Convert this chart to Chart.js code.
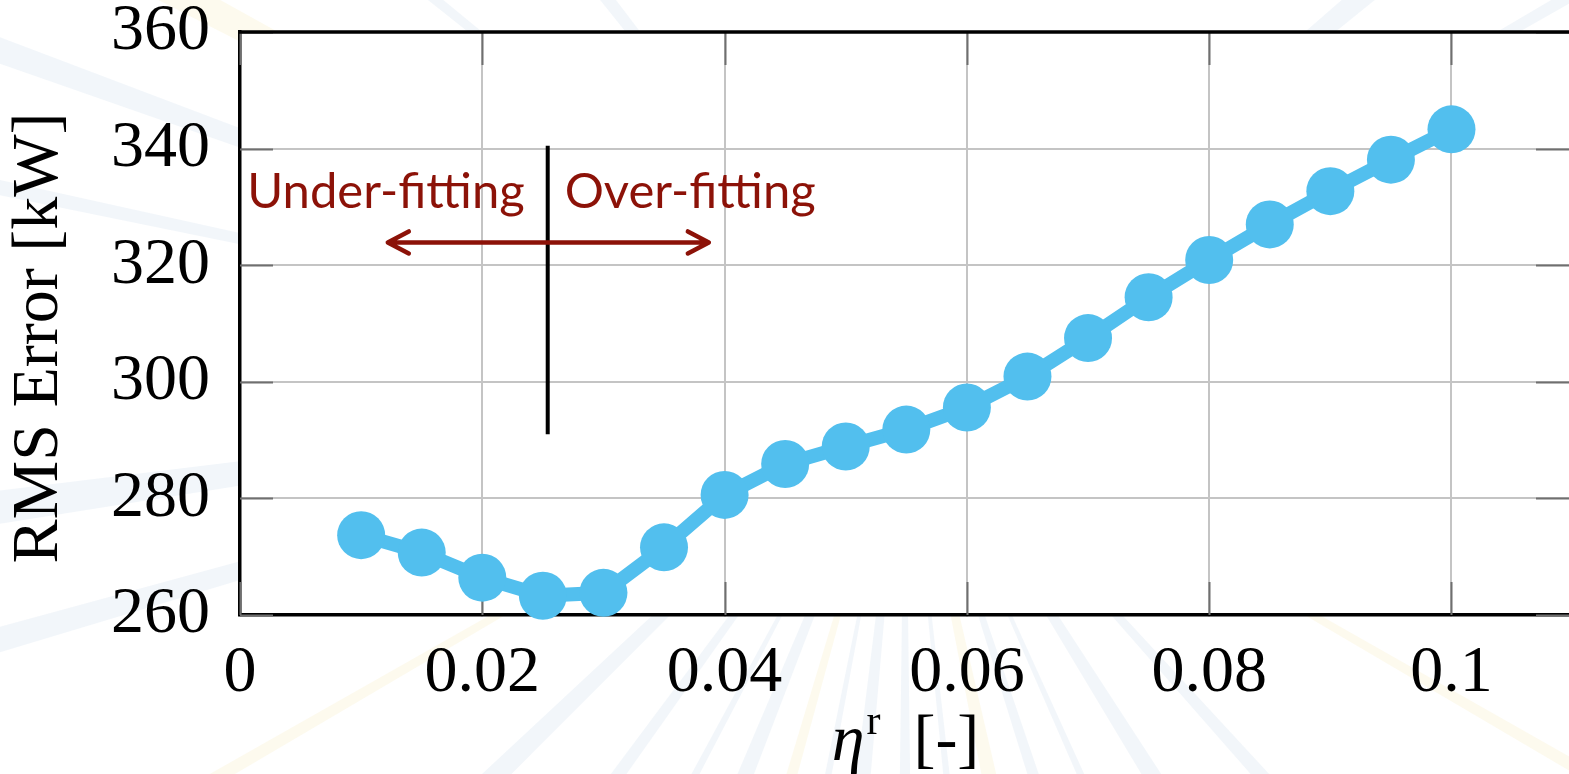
<!DOCTYPE html>
<html>
<head>
<meta charset="utf-8">
<script src="https://cdn.jsdelivr.net/npm/chart.js@4.4.1/dist/chart.umd.min.js"></script>
<style>
  html, body { margin: 0; padding: 0; background: #fff; overflow: hidden; }
  #wrap { width: 1569px; height: 774px; overflow: hidden; }
</style>
</head>
<body>
<div id="wrap"><canvas id="rmsChart" width="1593" height="774"></canvas></div>
<script>
// eta^r values and RMS error [kW]
const etaValues = [0.01, 0.015, 0.02, 0.025, 0.03, 0.035, 0.04, 0.045, 0.05, 0.055,
                   0.06, 0.065, 0.07, 0.075, 0.08, 0.085, 0.09, 0.095, 0.1];
const rmsError  = [273.7, 270.7, 266.4, 263.3, 263.8, 271.6, 280.6, 285.9, 288.9, 291.8,
                   295.6, 300.9, 307.5, 314.5, 320.9, 327.0, 332.7, 338.1, 343.3];

const xRange = [0, 0.1097];
const yRange = [260, 360];
const xStep = 0.02;
const yStep = 20;

// annotation: divider line and arrow (data coordinates)
const dividerX = [0.0254, 0.0254];
const dividerY = [291, 340.5];
const arrowX = [0.0122, 0.0387];
const arrowY = [323.9, 323.9];
const regionLabels = ["Under-fitting", "Over-fitting"];
const regionLabelX = [0.0006, 0.0268];
const regionLabelY = [329.8, 329.8];

// faint background rays (angles in degrees)
const rayAngles = [-168, -160, -152, -141, -128, -40, -30, -20, -12, -5, 8, 18, 30,
                   48, 58, 66, 72, 78, 84, 90, 96, 101, 106, 112, 118, 126, 136, 150, 164, 172];

const SERIF = '"Liberation Serif", "DejaVu Serif", serif';
const BLUE = "#52bfee";
const DARKRED = "#8c1208";

function fmtTick(v) {
  return String(Number(v.toFixed(4)));
}

const decorPlugin = {
  id: "decor",
  beforeDraw(chart) {
    const { ctx } = chart;
    ctx.save();
    ctx.fillStyle = "#fff";
    ctx.fillRect(0, 0, chart.width, chart.height);
    const cx = 905, cy = 380, R = 1400;
    rayAngles.forEach((deg, i) => {
      const t = deg * Math.PI / 180, w = 0.008 + (i % 3) * 0.005;
      ctx.fillStyle = (i % 5 === 2) ? "rgba(250,242,205,0.35)" : "rgba(218,228,242,0.35)";
      ctx.beginPath();
      ctx.moveTo(cx, cy);
      ctx.lineTo(cx + R * Math.cos(t - w), cy + R * Math.sin(t - w));
      ctx.lineTo(cx + R * Math.cos(t + w), cy + R * Math.sin(t + w));
      ctx.closePath();
      ctx.fill();
    });
    const a = chart.chartArea;
    ctx.fillStyle = "#fff";
    ctx.fillRect(a.left, a.top, a.right - a.left, a.bottom - a.top);
    ctx.restore();
  },
  beforeDatasetsDraw(chart) {
    const { ctx, chartArea: a, scales } = chart;
    ctx.save();
    // inward tick marks on all four sides
    ctx.strokeStyle = "#6f6f6f";
    ctx.lineWidth = 2;
    const len = 33;
    scales.x.ticks.forEach(t => {
      const px = Math.round(scales.x.getPixelForValue(t.value)) + 0.5;
      ctx.beginPath();
      ctx.moveTo(px, a.bottom); ctx.lineTo(px, a.bottom - len);
      ctx.moveTo(px, a.top); ctx.lineTo(px, a.top + len);
      ctx.stroke();
    });
    scales.y.ticks.forEach(t => {
      const py = Math.round(scales.y.getPixelForValue(t.value)) + 0.5;
      ctx.beginPath();
      ctx.moveTo(a.left, py); ctx.lineTo(a.left + len, py);
      ctx.moveTo(a.right, py); ctx.lineTo(a.right - len, py);
      ctx.stroke();
    });
    // top frame line
    ctx.strokeStyle = "#000";
    ctx.lineWidth = 3.5;
    ctx.beginPath();
    ctx.moveTo(a.left - 1.5, a.top);
    ctx.lineTo(a.right, a.top);
    ctx.stroke();
    ctx.restore();
  },
  afterDatasetsDraw(chart) {
    const { ctx, chartArea: a, scales } = chart;
    const sx = v => scales.x.getPixelForValue(v);
    const sy = v => scales.y.getPixelForValue(v);
    ctx.save();

    // vertical divider
    ctx.strokeStyle = "#000";
    ctx.lineWidth = 4;
    ctx.beginPath();
    ctx.moveTo(sx(dividerX[0]), sy(dividerY[0]));
    ctx.lineTo(sx(dividerX[1]), sy(dividerY[1]));
    ctx.stroke();

    // double-headed arrow
    const x0 = sx(arrowX[0]), x1 = sx(arrowX[1]), ay = sy(arrowY[0]);
    ctx.strokeStyle = DARKRED;
    ctx.lineWidth = 4.5;
    ctx.lineCap = "round";
    ctx.lineJoin = "round";
    ctx.beginPath();
    ctx.moveTo(x0 + 2, ay); ctx.lineTo(x1 - 2, ay);
    ctx.moveTo(x0 + 21, ay - 11); ctx.lineTo(x0, ay); ctx.lineTo(x0 + 21, ay + 11);
    ctx.moveTo(x1 - 21, ay - 11); ctx.lineTo(x1, ay); ctx.lineTo(x1 - 21, ay + 11);
    ctx.stroke();

    // region labels
    ctx.fillStyle = DARKRED;
    ctx.font = '49px Lato, "Open Sans", sans-serif';
    ctx.textAlign = "left";
    ctx.textBaseline = "alphabetic";
    regionLabels.forEach((s, i) => {
      ctx.fillText(s, sx(regionLabelX[i]), sy(regionLabelY[i]));
    });

    // y axis title
    ctx.fillStyle = "#000";
    ctx.font = "66px " + SERIF;
    ctx.textAlign = "center";
    ctx.textBaseline = "middle";
    ctx.save();
    ctx.translate(40, 338);
    ctx.rotate(-Math.PI / 2);
    ctx.fillText("RMS Error [kW]", 0, 0);
    ctx.restore();

    // x axis title: eta^r [-]
    const cx = (a.left + 1569) / 2;
    const base = 760;
    ctx.textBaseline = "alphabetic";
    ctx.textAlign = "left";
    const p1 = "italic 66px " + SERIF, p2 = "42px " + SERIF, p3 = "66px " + SERIF;
    ctx.font = p1; const w1 = ctx.measureText("\u03b7").width;
    ctx.font = p2; const w2 = ctx.measureText("r").width;
    ctx.font = p3; const w3 = ctx.measureText("  [-]").width;
    let xx = cx - (w1 + w2 + w3) / 2;
    ctx.font = p1; ctx.fillText("\u03b7", xx, base); xx += w1 + 2;
    ctx.font = p2; ctx.fillText("r", xx, base - 26); xx += w2;
    ctx.font = p3; ctx.fillText("  [-]", xx, base);
    ctx.restore();
  }
};

new Chart(document.getElementById("rmsChart"), {
  type: "line",
  data: {
    datasets: [{
      data: etaValues.map((x, i) => ({ x, y: rmsError[i] })),
      borderColor: BLUE,
      backgroundColor: BLUE,
      borderWidth: 14,
      pointRadius: 24,
      pointBorderWidth: 0,
      pointBackgroundColor: BLUE,
      tension: 0,
      clip: false,
    }],
  },
  options: {
    responsive: false,
    animation: false,
    events: [],
    layout: { padding: { top: 32, right: 0, left: 0, bottom: 0 } },
    plugins: { legend: { display: false }, tooltip: { enabled: false } },
    scales: {
      x: {
        type: "linear",
        min: xRange[0], max: xRange[1],
        afterFit: s => { s.height = 159; },
        ticks: {
          stepSize: xStep, includeBounds: false, maxRotation: 0, autoSkip: false,
          color: "#000", padding: 26,
          font: { family: SERIF, size: 66, lineHeight: 1 },
          callback: v => fmtTick(v),
        },
        grid: { color: "#c4c4c4", lineWidth: 2, tickLength: 0 },
        border: { color: "#000", width: 3.5 },
      },
      y: {
        min: yRange[0], max: yRange[1],
        afterFit: s => { s.width = 240; },
        ticks: {
          stepSize: yStep, color: "#000", padding: 0,
          font: { family: SERIF, size: 66, lineHeight: 0.9 },
          callback: v => fmtTick(v),
        },
        grid: { color: "#c4c4c4", lineWidth: 2, tickLength: 30, tickColor: "rgba(0,0,0,0)" },
        border: { color: "#000", width: 3.5 },
      },
    },
  },
  plugins: [decorPlugin],
});
</script>
</body>
</html>
